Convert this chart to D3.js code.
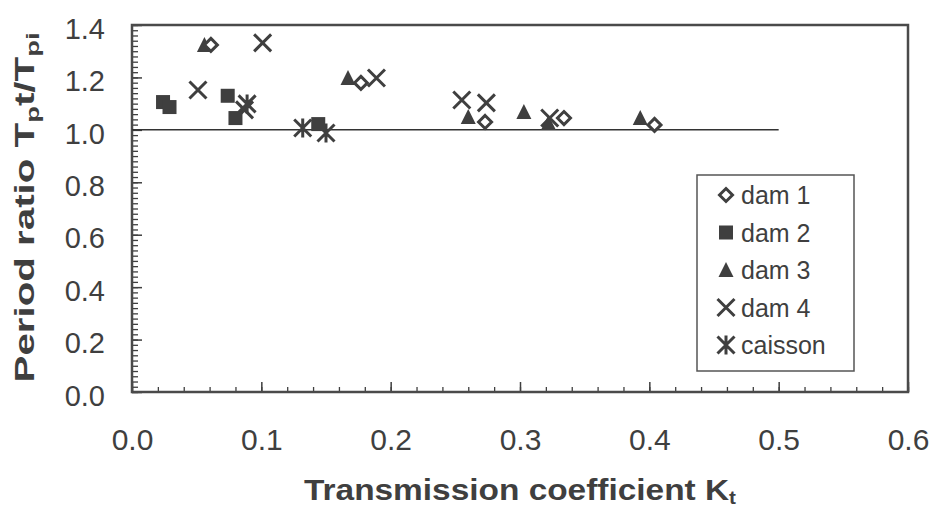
<!DOCTYPE html>
<html>
<head>
<meta charset="utf-8">
<script src="https://cdn.jsdelivr.net/npm/d3@7"></script>
<style>
  html, body { margin: 0; padding: 0; background: #fff; }
  svg { display: block; font-family: "Liberation Sans", Arial, sans-serif; }
</style>
</head>
<body>
<svg id="chart" width="932" height="511"></svg>
<script>
// ---- data ----
const dam1Kt = [0.061, 0.177, 0.273, 0.334, 0.404];
const dam1Ratio = [1.324, 1.179, 1.030, 1.045, 1.019];

const dam2Kt = [0.024, 0.029, 0.074, 0.080, 0.144];
const dam2Ratio = [1.106, 1.087, 1.130, 1.045, 1.022];

const dam3Kt = [0.056, 0.167, 0.260, 0.303, 0.322, 0.393];
const dam3Ratio = [1.324, 1.198, 1.049, 1.068, 1.026, 1.045];

const dam4Kt = [0.051, 0.101, 0.087, 0.189, 0.255, 0.274, 0.323];
const dam4Ratio = [1.152, 1.332, 1.076, 1.198, 1.114, 1.103, 1.045];

const caissonKt = [0.089, 0.132, 0.150];
const caissonRatio = [1.099, 1.007, 0.988];

const seriesNames = ["dam 1", "dam 2", "dam 3", "dam 4", "caisson"];
const seriesMarkers = ["diamond", "square", "triangle", "x", "asterisk"];

const xTicks = [0.0, 0.1, 0.2, 0.3, 0.4, 0.5, 0.6];
const yTicks = [0.0, 0.2, 0.4, 0.6, 0.8, 1.0, 1.2, 1.4];
const refLineX = [0.0, 0.5];
const refLineY = 1.0;

const xTitle = "Transmission coefficient K";
const xTitleSub = "t";

// ---- layout ----
const ink = "#3f3f3f";
const pLeft = 132, pRight = 908, pTop = 25, pBottom = 392;

const svg = d3.select("#chart");
const x = d3.scaleLinear().domain([0, 0.6]).range([pLeft, pRight]);
const y = d3.scaleLinear().domain([0, 1.4]).range([pBottom, pTop]);

// minor ticks
const xMinor = d3.range(0, 0.6001, 0.02);
const yMinor = d3.range(0, 1.4001, 0.02);

const gxMinor = svg.append("g").attr("transform", `translate(0,${pBottom})`)
  .call(d3.axisBottom(x).tickValues(xMinor).tickSize(-5).tickFormat(""));
gxMinor.select(".domain").remove();
gxMinor.selectAll("line").attr("stroke", ink).attr("stroke-width", 1.3);

const gyMinor = svg.append("g").attr("transform", `translate(${pLeft},0)`)
  .call(d3.axisLeft(y).tickValues(yMinor).tickSize(-6).tickFormat(""));
gyMinor.select(".domain").remove();
gyMinor.selectAll("line").attr("stroke", ink).attr("stroke-width", 1.3);

// major axes
const gx = svg.append("g").attr("transform", `translate(0,${pBottom})`)
  .call(d3.axisBottom(x).tickValues(xTicks).tickSize(-10).tickFormat(d3.format(".1f")));
gx.select(".domain").remove();
gx.selectAll("line").attr("stroke", ink).attr("stroke-width", 1.5);
gx.selectAll("text")
  .attr("y", 58).attr("dy", 0)
  .attr("fill", ink)
  .style("font-size", "30px");

const gy = svg.append("g").attr("transform", `translate(${pLeft},0)`)
  .call(d3.axisLeft(y).tickValues(yTicks).tickSize(-10).tickFormat(d3.format(".1f")));
gy.select(".domain").remove();
gy.selectAll("line").attr("stroke", ink).attr("stroke-width", 1.5);
gy.selectAll("text")
  .attr("x", -27).attr("y", 3).attr("dy", "0.35em")
  .attr("fill", ink)
  .style("font-size", "29px");

// frame
svg.append("rect")
  .attr("x", pLeft).attr("y", pTop)
  .attr("width", pRight - pLeft).attr("height", pBottom - pTop)
  .attr("fill", "none").attr("stroke", "#4a4a4a").attr("stroke-width", 2.5);

// reference line at ratio 1.0
svg.append("line")
  .attr("x1", x(refLineX[0])).attr("x2", x(refLineX[1]))
  .attr("y1", y(refLineY)).attr("y2", y(refLineY))
  .attr("stroke", "#333").attr("stroke-width", 1.5);

// ---- markers ----
function drawMarker(g, type, cx, cy) {
  if (type === "diamond") {
    const r = 6.5;
    g.append("path")
      .attr("d", `M${cx},${cy - r}L${cx + r},${cy}L${cx},${cy + r}L${cx - r},${cy}Z`)
      .attr("fill", "#fff").attr("stroke", ink).attr("stroke-width", 3);
  } else if (type === "square") {
    const s = 14;
    g.append("rect").attr("x", cx - s / 2).attr("y", cy - s / 2)
      .attr("width", s).attr("height", s).attr("fill", ink);
  } else if (type === "triangle") {
    const w = 15, h = 14;
    g.append("path")
      .attr("d", `M${cx},${cy - h / 2 - 1}L${cx + w / 2},${cy + h / 2}L${cx - w / 2},${cy + h / 2}Z`)
      .attr("fill", ink);
  } else if (type === "x") {
    const r = 8.5;
    g.append("path")
      .attr("d", `M${cx - r},${cy - r}L${cx + r},${cy + r}M${cx - r},${cy + r}L${cx + r},${cy - r}`)
      .attr("stroke", ink).attr("stroke-width", 3).attr("fill", "none");
  } else if (type === "asterisk") {
    const r = 8.5;
    g.append("path")
      .attr("d", `M${cx - r},${cy - r}L${cx + r},${cy + r}M${cx - r},${cy + r}L${cx + r},${cy - r}M${cx},${cy - r - 1}L${cx},${cy + r + 1}`)
      .attr("stroke", ink).attr("stroke-width", 3).attr("fill", "none");
  }
}

const allSeries = [
  { kt: dam1Kt, r: dam1Ratio, m: seriesMarkers[0] },
  { kt: dam2Kt, r: dam2Ratio, m: seriesMarkers[1] },
  { kt: dam3Kt, r: dam3Ratio, m: seriesMarkers[2] },
  { kt: dam4Kt, r: dam4Ratio, m: seriesMarkers[3] },
  { kt: caissonKt, r: caissonRatio, m: seriesMarkers[4] }
];
// draw order: dam 4, caisson, dam 3, dam 2, dam 1 (diamonds on top)
const drawOrder = [3, 4, 2, 1, 0];
const gPts = svg.append("g");
drawOrder.forEach(i => {
  const s = allSeries[i];
  s.kt.forEach((k, j) => drawMarker(gPts, s.m, x(k), y(s.r[j])));
});

// ---- legend ----
const legend = svg.append("g");
legend.append("rect")
  .attr("x", 697).attr("y", 175).attr("width", 157).attr("height", 196)
  .attr("fill", "#fff").attr("stroke", "#555").attr("stroke-width", 1.5);
seriesNames.forEach((name, i) => {
  const cy = 195 + i * 37.5;
  drawMarker(legend, seriesMarkers[i], 726, cy);
  legend.append("text")
    .attr("x", 741).attr("y", cy + 9)
    .attr("fill", ink)
    .style("font-size", "25px")
    .text(name);
});

// ---- axis titles ----
const xt = svg.append("text")
  .attr("x", (pLeft + pRight) / 2).attr("y", 500)
  .attr("text-anchor", "middle")
  .attr("fill", ink)
  .style("font-size", "29px").style("font-weight", "bold")
  .attr("textLength", 432).attr("lengthAdjust", "spacingAndGlyphs");
xt.append("tspan").text(xTitle);
xt.append("tspan").attr("dy", 4).style("font-size", "18px").text(xTitleSub);

const yt = svg.append("text")
  .attr("transform", `translate(34,${(32 + 383) / 2}) rotate(-90)`)
  .attr("text-anchor", "middle")
  .attr("fill", ink)
  .style("font-size", "28px").style("font-weight", "bold")
  .attr("textLength", 350).attr("lengthAdjust", "spacingAndGlyphs");
yt.append("tspan").text("Period ratio T");
yt.append("tspan").attr("dy", 5).style("font-size", "19px").text("p");
yt.append("tspan").attr("dy", -5).text("t/T");
yt.append("tspan").attr("dy", 5).style("font-size", "19px").text("pi");
</script>
</body>
</html>
